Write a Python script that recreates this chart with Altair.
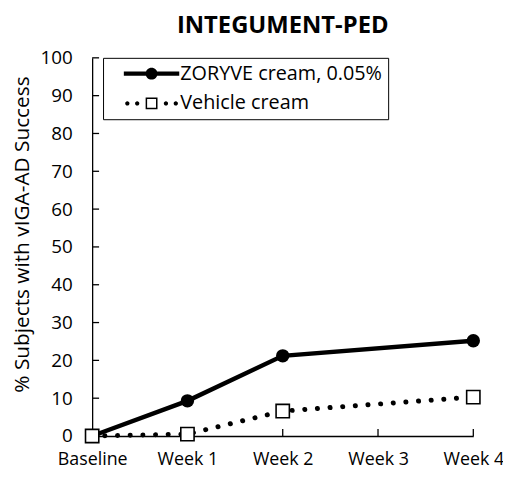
import altair as alt
import pandas as pd

# ---- data ----
weeks = ["Baseline", "Week 1", "Week 2", "Week 3", "Week 4"]
measured_weeks = ["Baseline", "Week 1", "Week 2", "Week 4"]
zoryve = [0, 9.3, 21.2, 25.2]
vehicle = [0, 0.5, 6.6, 10.3]
y_ticks = [0, 10, 20, 30, 40, 50, 60, 70, 80, 90, 100]
series_names = ["ZORYVE cream, 0.05%", "Vehicle cream"]

rows = []
for w, z in zip(measured_weeks, zoryve):
    rows.append({"week": w, "value": z, "series": series_names[0]})
for w, v in zip(measured_weeks, vehicle):
    rows.append({"week": w, "value": v, "series": series_names[1]})
df = pd.DataFrame(rows)
df_yt = pd.DataFrame({"value": y_ticks})
df_xt = pd.DataFrame({"week": weeks})

FONT = "Open Sans"


# ---- legend symbol paths (unit = sqrt(size)/2 px) ----
def circ(cx, r):
    return f"M{cx + r},0A{r},{r} 0 1 1 {cx - r},0A{r},{r} 0 1 1 {cx + r},0Z"


c = 3.67
z_path = "M-1,-0.35H8.33V0.35H-1Z " + circ(c, 1.0)
v_path = " ".join(circ(c + d, 0.36) for d in (-4.08, -2.42, 2.42, 4.08))
v_path += (f" M{c - 1},-1H{c + 1}V1H{c - 1}Z"
           f" M{c - 0.75},-0.75V0.75H{c + 0.75}V-0.75Z")

x_enc = alt.X(
    "week:O",
    scale=alt.Scale(type="point", domain=weeks, padding=0),
    axis=alt.Axis(labelAngle=0, ticks=False, tickSize=0, labelPadding=15,
                  labelFont=FONT, labelFontSize=18, labelColor="black",
                  domainColor="black", domainWidth=1.3),
    title=None,
)
y_enc = alt.Y(
    "value:Q",
    scale=alt.Scale(domain=[0, 100], nice=False),
    axis=alt.Axis(values=y_ticks, ticks=False, tickSize=0, grid=False,
                  labelPadding=20, labelFont=FONT, labelFontSize=19,
                  labelColor="black", domainColor="black", domainWidth=1.3,
                  titleFont=FONT, titleFontSize=21, titleFontWeight="normal",
                  titleColor="black", titleX=-64, titleY=178,
                  titleBaseline="alphabetic", titleAngle=270),
    title="% Subjects with vIGA-AD Success",
)

base = alt.Chart(df)

line_z = base.transform_filter(alt.datum.series == series_names[0]).mark_line(
    color="black", strokeWidth=4.5
).encode(x=x_enc, y=y_enc)

line_v = base.transform_filter(alt.datum.series == series_names[1]).mark_line(
    color="black", strokeWidth=5, strokeDash=[0.1, 12.7], strokeCap="round"
).encode(x=x_enc, y=y_enc)

yticks = alt.Chart(df_yt).mark_rule(color="black", strokeWidth=1.3).encode(
    y=y_enc, x=alt.value(0), x2=alt.value(7)
)
xticks = alt.Chart(df_xt).mark_rule(color="black", strokeWidth=1.3).encode(
    x=x_enc, y=alt.value(382), y2=alt.value(375)
)

pts_z = base.transform_filter(alt.datum.series == series_names[0]).mark_circle(
    color="black", size=184, opacity=1
).encode(x=x_enc, y=y_enc)

pts_v = base.transform_filter(alt.datum.series == series_names[1]).mark_square(
    fill="white", stroke="black", strokeWidth=1.6, size=180, opacity=1
).encode(x=x_enc, y=y_enc)

legend_layer = base.mark_point(filled=True, color="black", opacity=0, size=144).encode(
    x=x_enc,
    y=y_enc,
    shape=alt.Shape(
        "series:N",
        scale=alt.Scale(domain=series_names, range=[z_path, v_path]),
        legend=alt.Legend(
            title=None, orient="none", legendX=11, legendY=0, padding=6,
            strokeColor="black", fillColor="white",
            labelFont=FONT, labelFontSize=20, labelColor="black", labelLimit=400,
            symbolSize=144, symbolStrokeWidth=0, symbolFillColor="black",
            symbolOpacity=1, symbolOffset=11, labelOffset=41, rowPadding=10,
            direction="vertical",
        ),
    ),
)

chart = alt.layer(line_z, line_v, yticks, xticks, pts_z, pts_v, legend_layer).properties(
    width=385,
    height=382,
    autosize=alt.AutoSizeParams(type="none"),
    padding={"left": 85, "top": 48, "right": 30, "bottom": 33},
    title=alt.TitleParams("INTEGUMENT-PED", font=FONT, fontSize=24, fontWeight="bold",
                          color="black", anchor="middle", frame="group", offset=11),
    background="white",
).configure_view(stroke=None)

chart.save("out.html", embed_options={"renderer": "svg", "actions": False})
